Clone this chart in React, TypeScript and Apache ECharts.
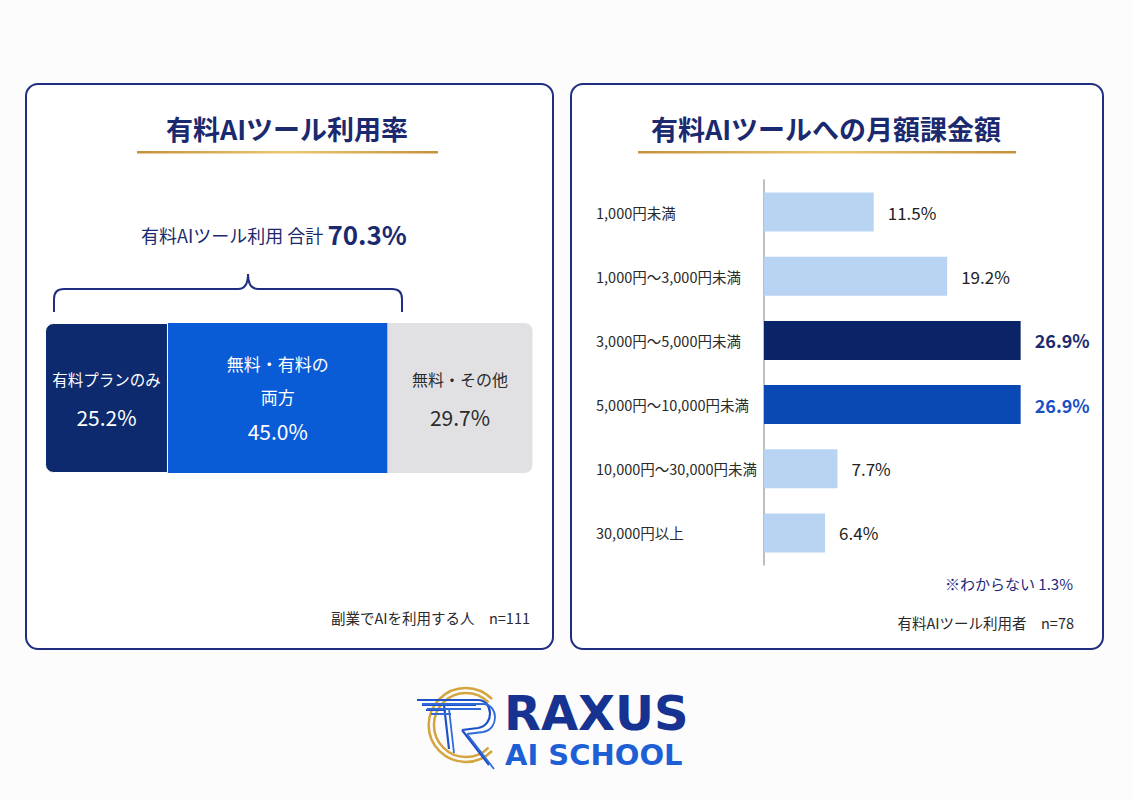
import React, { useEffect, useRef } from "react";
import * as echarts from "echarts";

// ---- Data ----
const leftTitle = "有料AIツール利用率";
const rightTitle = "有料AIツールへの月額課金額";
const totalLabel = "有料AIツール利用 合計";
const totalValue = "70.3%";
const segNames = ["有料プランのみ", "無料・有料の両方", "無料・その他"];
const segLabels = ["有料プランのみ", "無料・有料の\n両方", "無料・その他"];
const segValues = [25.2, 45.0, 29.7];
const leftNote = "副業でAIを利用する人　n=111";

const amountCats = [
  "1,000円未満",
  "1,000円～3,000円未満",
  "3,000円～5,000円未満",
  "5,000円～10,000円未満",
  "10,000円～30,000円未満",
  "30,000円以上",
];
const amountValues = [11.5, 19.2, 26.9, 26.9, 7.7, 6.4];
const unknownNote = "※わからない 1.3%";
const rightNote = "有料AIツール利用者　n=78";
const brandTop = "RAXUS";
const brandBottom = "AI SCHOOL";

const FONT = '"Noto Sans CJK JP", "Noto Sans", sans-serif';
const NAVY = "#1b2a6e";

const bracePath =
  "M54,312 L54,299 Q54,289 64,289 L238,289 Q248,289 248,274 Q248,289 258,289 L392,289 Q402,289 402,299 L402,312";
const logoBluePath =
  "M417,700 L478,700 M422,705 L476,705 M426,710 L446,710 " +
  "M478,700 C493,700 495,725 478,728 L462,730 " +
  "M462,730 L489,765 M444,705 L449,749";
const logoGoldPath =
  "M492,699 A37,37 0 1 0 492,751 M488.6,702.4 A32,32 0 1 0 488.6,747.6";

echarts.graphic.registerShape("brace", echarts.graphic.extendPath(bracePath, {}));
echarts.graphic.registerShape("logoBlue", echarts.graphic.extendPath(logoBluePath, {}));
echarts.graphic.registerShape("logoGold", echarts.graphic.extendPath(logoGoldPath, {}));

const goldGrad = () =>
  new echarts.graphic.LinearGradient(0, 0, 1, 0, [
    { offset: 0, color: "#c4913a" },
    { offset: 0.5, color: "#ecc873" },
    { offset: 1, color: "#c4913a" },
  ]);

export default function App() {
  const ref = useRef<HTMLDivElement>(null);

  useEffect(() => {
    document.body.style.margin = "0";
    const chart = echarts.init(ref.current!, null, { renderer: "svg" });

    const segColors = ["#0c2a6d", "#0a5bd6", "#e1e1e3"];
    const segTextColors = ["#ffffff", "#ffffff", "#2a2a2a"];
    const segNameSizes = [15.5, 17, 16];
    const radii = [
      [8, 0, 0, 8],
      [0, 0, 0, 0],
      [0, 8, 8, 0],
    ];

    const segSeries = segValues.map((v, i) => ({
      name: segNames[i],
      type: "bar",
      stack: "total",
      xAxisIndex: 0,
      yAxisIndex: 0,
      barWidth: 150,
      data: [v],
      itemStyle: {
        color: segColors[i],
        borderRadius: radii[i],
        borderColor: "#ffffff",
        borderWidth: i === 0 ? 1 : 0,
      },
      label: {
        show: true,
        position: "inside",
        formatter: () =>
          segLabels[i]
            .split("\n")
            .map((s) => `{n|${s}}`)
            .join("\n") + `\n{v|${v.toFixed(1)}%}`,
        rich: {
          n: {
            fontSize: segNameSizes[i],
            fontFamily: FONT,
            color: segTextColors[i],
            lineHeight: i === 1 ? 33 : 38,
          },
          v: {
            fontSize: 21,
            fontFamily: FONT,
            color: segTextColors[i],
            lineHeight: i === 1 ? 36 : 38,
          },
        },
      },
    }));

    const lightBar = "#b8d4f2";
    const barData = amountValues.map((v, i) => {
      let color = lightBar;
      let lab: any = { color: "#222222", fontSize: 17, fontWeight: "normal" };
      if (i === 2) {
        color = "#0b2467";
        lab = { color: "#1c2a6d", fontSize: 18, fontWeight: "bold" };
      } else if (i === 3) {
        color = "#0a48b4";
        lab = { color: "#1b4fc4", fontSize: 18, fontWeight: "bold" };
      }
      return { value: v, itemStyle: { color }, label: lab };
    });

    const option: any = {
      animation: false,
      backgroundColor: "#fcfcfd",
      textStyle: { fontFamily: FONT },
      grid: [
        { left: 45, top: 323, width: 488, height: 150 },
        { left: 764, top: 180, width: 291, height: 385 },
      ],
      xAxis: [
        { type: "value", gridIndex: 0, min: 0, max: 100, show: false },
        { type: "value", gridIndex: 1, min: 0, max: 30.5, show: false },
      ],
      yAxis: [
        { type: "category", gridIndex: 0, data: ["利用率"], show: false },
        {
          type: "category",
          gridIndex: 1,
          data: amountCats,
          inverse: true,
          axisLine: { show: true, lineStyle: { color: "#a9a9a9", width: 1.5 } },
          axisTick: { show: false },
          axisLabel: {
            align: "left",
            margin: 168,
            fontSize: 14.5,
            color: "#2a2a2a",
            fontFamily: FONT,
          },
        },
      ],
      series: [
        ...segSeries,
        {
          type: "bar",
          name: "月額課金額",
          xAxisIndex: 1,
          yAxisIndex: 1,
          barWidth: 39,
          data: barData,
          label: {
            show: true,
            position: "right",
            distance: 14,
            fontFamily: FONT,
            formatter: (p: any) => `${p.value.toFixed(1)}%`,
          },
        },
      ],
      graphic: [
        // panels
        {
          type: "rect",
          z: -10,
          shape: { x: 26, y: 84, width: 527, height: 565, r: 12 },
          style: { fill: "#ffffff", stroke: "#1f2e80", lineWidth: 2 },
        },
        {
          type: "rect",
          z: -10,
          shape: { x: 571, y: 84, width: 532, height: 565, r: 12 },
          style: { fill: "#ffffff", stroke: "#1f2e80", lineWidth: 2 },
        },
        // titles
        {
          type: "text",
          x: 287,
          y: 128,
          style: {
            text: leftTitle,
            fontSize: 27,
            fontWeight: "bold",
            fontFamily: FONT,
            fill: NAVY,
            align: "center",
            verticalAlign: "middle",
          },
        },
        {
          type: "rect",
          shape: { x: 137, y: 151, width: 301, height: 2.5 },
          style: { fill: goldGrad() },
        },
        {
          type: "text",
          x: 826,
          y: 128,
          style: {
            text: rightTitle,
            fontSize: 27,
            fontWeight: "bold",
            fontFamily: FONT,
            fill: NAVY,
            align: "center",
            verticalAlign: "middle",
          },
        },
        {
          type: "rect",
          shape: { x: 638, y: 151, width: 378, height: 2.5 },
          style: { fill: goldGrad() },
        },
        // total label
        {
          type: "text",
          x: 274,
          y: 233,
          style: {
            text: `{a|${totalLabel} }{b|${totalValue}}`,
            align: "center",
            verticalAlign: "middle",
            rich: {
              a: { fontSize: 18, fontFamily: FONT, fill: NAVY, padding: [4, 0, 0, 0] },
              b: { fontSize: 26, fontWeight: "bold", fontFamily: FONT, fill: NAVY },
            },
          },
        },
        // brace
        {
          type: "brace",
          x: 0,
          y: 0,
          style: { fill: null, stroke: "#1f2e80", lineWidth: 2 },
        },
        // notes
        {
          type: "text",
          x: 530,
          y: 617,
          style: {
            text: leftNote,
            fontSize: 14.5,
            fontFamily: FONT,
            fill: "#2a2a2a",
            align: "right",
            verticalAlign: "middle",
          },
        },
        {
          type: "text",
          x: 1073,
          y: 583,
          style: {
            text: unknownNote,
            fontSize: 15,
            fontFamily: FONT,
            fill: "#1e2a7a",
            align: "right",
            verticalAlign: "middle",
          },
        },
        {
          type: "text",
          x: 1074,
          y: 622,
          style: {
            text: rightNote,
            fontSize: 14.5,
            fontFamily: FONT,
            fill: "#2a2a2a",
            align: "right",
            verticalAlign: "middle",
          },
        },
        // logo
        {
          type: "logoGold",
          x: 0,
          y: 0,
          style: { fill: null, stroke: "#d4a43e", lineWidth: 2.5 },
        },
        {
          type: "logoBlue",
          x: 0,
          y: 0,
          style: { fill: null, stroke: "#1e50c8", lineWidth: 2.2 },
        },
        {
          type: "logoBlue",
          x: 5,
          y: 4,
          style: { fill: null, stroke: "#2f6ad8", lineWidth: 1.8 },
        },
        {
          type: "text",
          x: 504,
          y: 713,
          style: {
            text: brandTop,
            fontSize: 48,
            fontWeight: "bold",
            fontFamily: '"DejaVu Sans", sans-serif',
            fill: "#173391",
            align: "left",
            verticalAlign: "middle",
          },
        },
        {
          type: "text",
          x: 505,
          y: 755,
          style: {
            text: brandBottom,
            fontSize: 29,
            fontWeight: "bold",
            fontFamily: '"DejaVu Sans", sans-serif',
            fill: "#1f5fd6",
            align: "left",
            verticalAlign: "middle",
          },
        },
      ],
    };

    chart.setOption(option);
    return () => chart.dispose();
  }, []);

  return (
    <div
      ref={ref}
      style={{ position: "absolute", left: 0, top: 0, width: 1132, height: 800 }}
    />
  );
}
